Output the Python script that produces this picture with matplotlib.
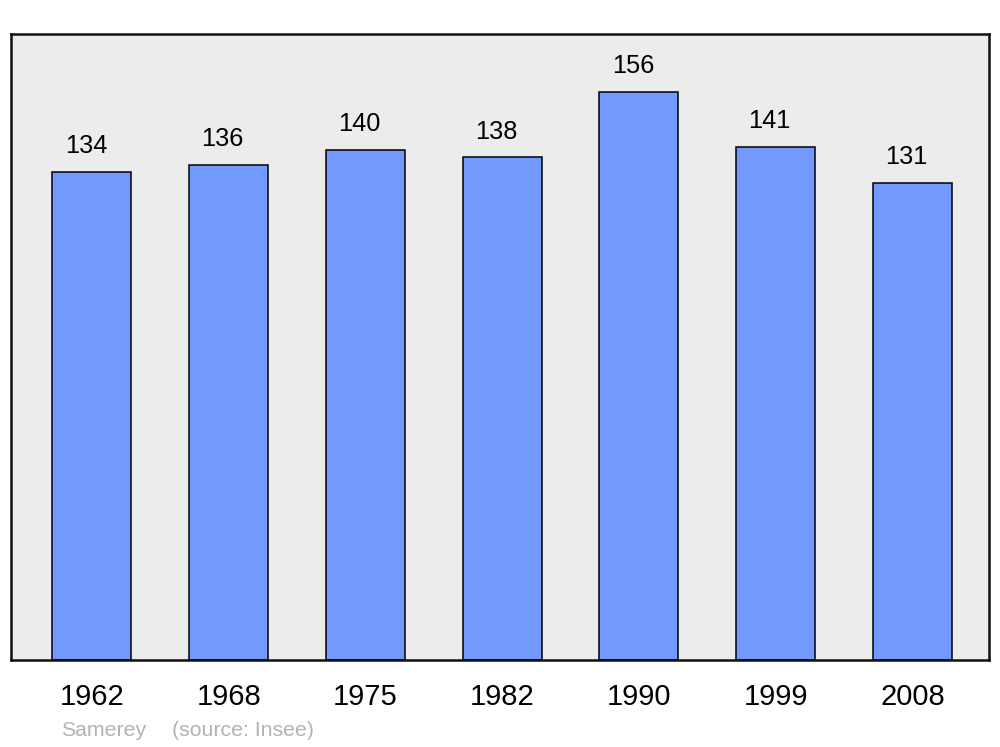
import matplotlib
matplotlib.use("Agg")
import matplotlib.pyplot as plt

years = ["1962", "1968", "1975", "1982", "1990", "1999", "2008"]
population = [134, 136, 140, 138, 156, 141, 131]

plt.rcParams['font.family'] = ['Liberation Sans', 'DejaVu Sans']

fig = plt.figure(figsize=(10, 7.47), dpi=100)
ax = fig.add_axes([11/1000, (747-660)/747, 978/1000, 626/747])
ax.set_facecolor('#ececec')

x = list(range(len(years)))
bars = ax.bar(x, population, width=0.578, color='#7399ff', edgecolor='black', linewidth=1.1, zorder=2)
for xi, v in zip(x, population):
    ax.annotate(str(v), (xi, v), xytext=(-4.4, 13.5), textcoords='offset points',
                ha='center', va='baseline', fontsize=18.3, color='black')

ax.set_xlim(-0.592, 6.56)
ax.set_ylim(0, 171.9)
ax.set_yticks([])
ax.set_xticks(x)
ax.set_xticklabels(years, fontsize=21)
for lbl in ax.get_xticklabels():
    lbl.set_x(lbl.get_position()[0])
ax.tick_params(axis='x', length=0, pad=16.5)
for s in ax.spines.values():
    s.set_linewidth(1.8)
    s.set_color('#111111')

fig.text(61/1000, 1 - 730/747, "Samerey", color='#b3b3b3', fontsize=15.3, va='center', ha='left')
fig.text(171.7/1000, 1 - 730/747, "(source: Insee)", color='#b3b3b3', fontsize=15.3, va='center', ha='left')

fig.savefig('out.png', dpi=100)
